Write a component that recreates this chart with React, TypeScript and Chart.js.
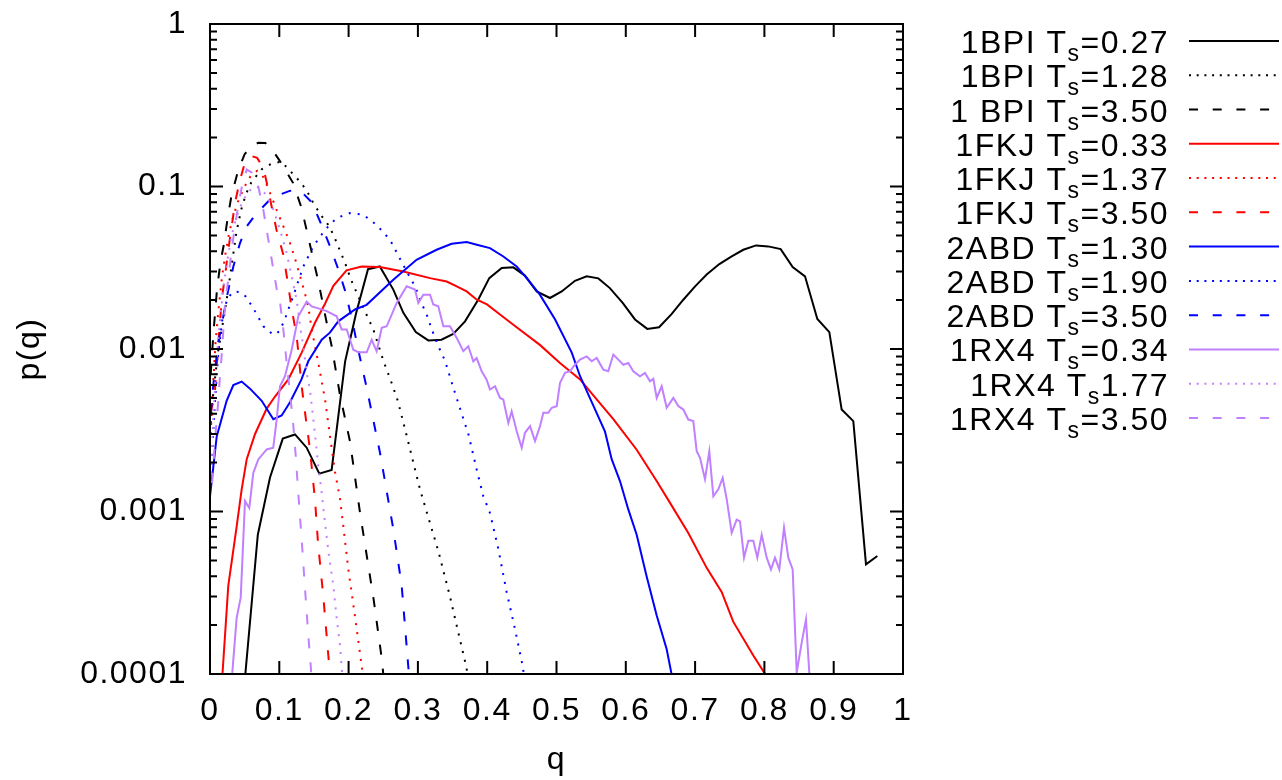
import { useEffect, useRef } from 'react';
import { Chart, registerables } from 'chart.js';

Chart.register(...registerables);

const FONT = '"Liberation Sans", Arial, Helvetica, sans-serif';

type Pt = [number, number];

// 1BPI Ts=0.27 (black solid)
const bpi027: Pt[] = [
  [0.035, 2e-5], [0.051, 1.0e-4], [0.069, 7.2e-4], [0.0866, 1.62e-3], [0.105, 2.81e-3], [0.1227, 2.98e-3],
  [0.1395, 2.47e-3], [0.1577, 1.71e-3], [0.1755, 1.8e-3], [0.195, 8.4e-3], [0.211, 0.0167], [0.228, 0.031],
  [0.245, 0.0322], [0.2645, 0.0232], [0.279, 0.0167], [0.297, 0.0127], [0.315, 0.0113], [0.334, 0.0114],
  [0.351, 0.0124], [0.368, 0.0148], [0.387, 0.0201], [0.403, 0.0273], [0.421, 0.0315], [0.4377, 0.0318],
  [0.4545, 0.0283], [0.4714, 0.0226], [0.4906, 0.0206], [0.5075, 0.0226], [0.5267, 0.0263], [0.5435, 0.028],
  [0.5604, 0.0272], [0.577, 0.0237], [0.5955, 0.0192], [0.6133, 0.0152], [0.631, 0.0133], [0.648, 0.0136],
  [0.666, 0.0164], [0.683, 0.0201], [0.7, 0.0243], [0.7167, 0.0287], [0.735, 0.0333], [0.7528, 0.0371],
  [0.7696, 0.0408], [0.788, 0.0434], [0.8056, 0.0428], [0.8235, 0.0412], [0.8408, 0.0319], [0.8586, 0.028],
  [0.8764, 0.0153], [0.8937, 0.0127], [0.9115, 4.24e-3], [0.9283, 3.6e-3], [0.9466, 4.73e-4], [0.963, 5.32e-4],
];

// 1BPI Ts=1.28 (black dotted)
const bpi128: Pt[] = [
  [0.001, 0.0035], [0.005, 0.0055], [0.012, 0.0098], [0.018, 0.014], [0.024, 0.02], [0.03, 0.03],
  [0.038, 0.052], [0.045, 0.072], [0.052, 0.09], [0.06, 0.107], [0.075, 0.128], [0.09, 0.139],
  [0.103, 0.142], [0.1154, 0.125], [0.13, 0.107], [0.1395, 0.0945], [0.1477, 0.081], [0.1587, 0.068],
  [0.1707, 0.058], [0.178, 0.0505], [0.185, 0.0428], [0.195, 0.0338], [0.203, 0.027], [0.219, 0.0188],
  [0.2357, 0.0132], [0.25, 0.0085], [0.262, 0.0062], [0.271, 0.0048], [0.28, 0.0034], [0.303, 0.00137],
  [0.3295, 5.7e-4], [0.3463, 3.0e-4], [0.3583, 1.8e-4], [0.37, 1.1e-4], [0.377, 7e-5],
];

// 1 BPI Ts=3.50 (black dashed)
const bpi350: Pt[] = [
  [0.001, 0.007], [0.005, 0.0126], [0.01, 0.023], [0.015, 0.034], [0.02, 0.044], [0.025, 0.062],
  [0.031, 0.088], [0.036, 0.106], [0.041, 0.127], [0.05, 0.158], [0.06, 0.178], [0.07, 0.186],
  [0.08, 0.185], [0.09, 0.168], [0.103, 0.139], [0.12, 0.105], [0.132, 0.074], [0.147, 0.039],
  [0.1563, 0.0261], [0.1684, 0.0145], [0.1756, 0.0104], [0.1876, 0.0052], [0.202, 0.0027], [0.2165, 9.8e-4],
  [0.236, 2.9e-4], [0.248, 1.23e-4], [0.255, 6e-5],
];

// 1FKJ Ts=0.33 (red solid)
const fkj033: Pt[] = [
  [0.015, 5e-5], [0.018, 1.0e-4], [0.0264, 3.5e-4], [0.0385, 8.1e-4], [0.0457, 1.37e-3], [0.053, 2.1e-3],
  [0.065, 3.0e-3], [0.0818, 4.3e-3], [0.0938, 5.1e-3], [0.113, 6.5e-3], [0.1323, 9.5e-3], [0.1515, 0.0145],
  [0.166, 0.019], [0.178, 0.0245], [0.197, 0.0305], [0.219, 0.0322], [0.245, 0.032], [0.279, 0.03],
  [0.3175, 0.0273], [0.3415, 0.026], [0.356, 0.0243], [0.3704, 0.0226], [0.385, 0.0201], [0.3997, 0.0188],
  [0.4185, 0.0163], [0.4377, 0.0141], [0.476, 0.0106], [0.505, 0.0082], [0.534, 0.0065], [0.558, 0.0049],
  [0.582, 0.0037], [0.6157, 0.0024], [0.6445, 0.00154], [0.6638, 0.00113], [0.69, 7.4e-4], [0.7167, 4.5e-4],
  [0.7383, 3.2e-4], [0.755, 2.1e-4], [0.784, 1.3e-4], [0.801, 1.0e-4], [0.81, 7e-5],
];

// 1FKJ Ts=1.37 (red dotted)
const fkj137: Pt[] = [
  [0.001, 0.003], [0.004, 0.0055], [0.008, 0.011], [0.012, 0.017], [0.017, 0.027], [0.022, 0.038],
  [0.027, 0.05], [0.032, 0.062], [0.04, 0.08], [0.05, 0.1], [0.058, 0.115], [0.068, 0.125],
  [0.078, 0.113], [0.0886, 0.087], [0.096, 0.072], [0.108, 0.054], [0.1154, 0.045], [0.1227, 0.036],
  [0.128, 0.03], [0.137, 0.022], [0.142, 0.018], [0.1468, 0.0132], [0.1563, 0.0082], [0.166, 0.0049],
  [0.1732, 0.0029], [0.1804, 0.00175], [0.1876, 0.0012], [0.1924, 8.1e-4], [0.1996, 4.4e-4], [0.209, 2.3e-4],
  [0.2198, 1.05e-4], [0.225, 7e-5],
];

// 1FKJ Ts=3.50 (red dashed)
const fkj350: Pt[] = [
  [0.001, 0.004], [0.0072, 0.0056], [0.0097, 0.0078], [0.012, 0.0109], [0.0144, 0.0145], [0.0169, 0.0201],
  [0.0216, 0.028], [0.0264, 0.0408], [0.0313, 0.0568], [0.036, 0.079], [0.0433, 0.11], [0.05, 0.138],
  [0.06, 0.154], [0.068, 0.15], [0.077, 0.13], [0.082, 0.105], [0.089, 0.075], [0.096, 0.054],
  [0.1058, 0.038], [0.113, 0.0245], [0.118, 0.0175], [0.1251, 0.012], [0.1323, 0.0059], [0.137, 0.0041],
  [0.1443, 0.0024], [0.1515, 0.00118], [0.156, 6.3e-4], [0.1635, 3.0e-4], [0.173, 1.0e-4], [0.178, 6e-5],
];

// 2ABD Ts=1.30 (blue solid)
const abd130: Pt[] = [
  [0.0, 1.24e-3], [0.0097, 2.9e-3], [0.024, 4.8e-3], [0.0337, 6.0e-3], [0.0457, 6.3e-3], [0.0577, 5.7e-3],
  [0.0746, 4.8e-3], [0.0914, 3.7e-3], [0.1034, 3.9e-3], [0.1154, 4.7e-3], [0.132, 6.5e-3], [0.1418, 8.4e-3],
  [0.1612, 0.0114], [0.173, 0.0126], [0.1851, 0.0148], [0.2092, 0.0175], [0.226, 0.0187], [0.2645, 0.0267],
  [0.298, 0.0354], [0.327, 0.0408], [0.3487, 0.0444], [0.3704, 0.0455], [0.385, 0.0438], [0.404, 0.0418],
  [0.4233, 0.0371], [0.4425, 0.0322], [0.457, 0.0273], [0.476, 0.0216], [0.498, 0.0152], [0.522, 0.0095],
  [0.534, 0.0068], [0.553, 0.0045], [0.57, 0.0031], [0.5796, 0.0021], [0.5916, 0.00154], [0.6036, 0.00103],
  [0.6157, 7.2e-4], [0.63, 4.0e-4], [0.6445, 2.3e-4], [0.659, 1.42e-4], [0.666, 1.0e-4], [0.672, 7e-5],
];

// 2ABD Ts=1.90 (blue dotted)
const abd190: Pt[] = [
  [0.001, 0.0015], [0.006, 0.004], [0.012, 0.0095], [0.018, 0.0155], [0.025, 0.0205], [0.034, 0.0226],
  [0.043, 0.0224], [0.052, 0.021], [0.0625, 0.0178], [0.077, 0.0138], [0.0914, 0.0122], [0.1, 0.0128],
  [0.108, 0.0152], [0.115, 0.0185], [0.12, 0.0211], [0.1347, 0.0322], [0.149, 0.0428], [0.166, 0.0542],
  [0.1828, 0.064], [0.202, 0.0686], [0.221, 0.067], [0.2405, 0.058], [0.2597, 0.047], [0.274, 0.036],
  [0.289, 0.0273], [0.296, 0.0243], [0.305, 0.0192], [0.3127, 0.0163], [0.32, 0.0132], [0.3295, 0.0104],
  [0.339, 0.0085], [0.351, 0.0058], [0.3608, 0.0043], [0.3728, 0.003], [0.385, 0.0018], [0.3944, 0.00124],
  [0.404, 9.8e-4], [0.416, 5.9e-4], [0.428, 3.2e-4], [0.44, 1.9e-4], [0.451, 1.13e-4], [0.458, 7e-5],
];

// 2ABD Ts=3.50 (blue dashed)
const abd350: Pt[] = [
  [0.001, 0.004], [0.006, 0.0068], [0.012, 0.0109], [0.0192, 0.0159], [0.0264, 0.0232], [0.0337, 0.0322],
  [0.0433, 0.0449], [0.053, 0.0568], [0.0674, 0.0686], [0.0866, 0.083], [0.1, 0.089], [0.115, 0.094],
  [0.125, 0.095], [0.135, 0.09], [0.1467, 0.08], [0.161, 0.058], [0.173, 0.043], [0.185, 0.031],
  [0.195, 0.0228], [0.2044, 0.0155], [0.2165, 0.0088], [0.226, 0.0058], [0.2453, 0.0023], [0.2645, 7.8e-4],
  [0.2766, 3.5e-4], [0.286, 1.13e-4], [0.29, 7e-5],
];

// 1RX4 Ts=0.34 (purple solid)
const rx4034: Pt[] = [
  [0.03, 6e-5], [0.032, 1.0e-4], [0.0385, 2.22e-4], [0.0443, 2.95e-4], [0.0505, 1.16e-3], [0.0567, 1.05e-3],
  [0.0625, 1.73e-3], [0.0697, 2.09e-3], [0.0818, 2.41e-3], [0.0913, 2.47e-3], [0.0962, 3.68e-3], [0.101, 5.9e-3],
  [0.1082, 6.8e-3], [0.1179, 9.9e-3], [0.1274, 0.0159], [0.1395, 0.0196], [0.1468, 0.0183], [0.154, 0.0179],
  [0.1684, 0.0171], [0.1828, 0.0159], [0.19, 0.0132], [0.1973, 0.0132], [0.2068, 0.0099], [0.214, 0.00955],
  [0.2261, 0.00955], [0.2333, 0.0114], [0.2405, 0.0097], [0.2478, 0.0135], [0.255, 0.0138], [0.2694, 0.0192],
  [0.2838, 0.0243], [0.2958, 0.0232], [0.3006, 0.0192], [0.3078, 0.0216], [0.3175, 0.0216], [0.3222, 0.0188],
  [0.3294, 0.0183], [0.3367, 0.0138], [0.3463, 0.0138], [0.356, 0.0117], [0.3655, 0.0097], [0.3727, 0.0104],
  [0.38, 0.0084], [0.3848, 0.0088], [0.392, 0.0073], [0.399, 0.0065], [0.404, 5.63e-3], [0.4113, 5.9e-3],
  [0.4185, 5.0e-3], [0.4232, 4.89e-3], [0.4305, 3.51e-3], [0.4353, 4.14e-3], [0.4426, 3.12e-3], [0.4498, 2.47e-3],
  [0.4545, 3.05e-3], [0.4618, 3.35e-3], [0.469, 2.71e-3], [0.4762, 3.35e-3], [0.481, 4.05e-3], [0.4882, 4.05e-3],
  [0.4931, 4.35e-3], [0.5003, 4.45e-3], [0.5051, 6.19e-3], [0.5123, 7.13e-3], [0.5195, 7.3e-3], [0.5267, 8.0e-3],
  [0.5339, 8.6e-3], [0.5436, 9.0e-3], [0.5508, 8.4e-3], [0.558, 8.8e-3], [0.5675, 7.47e-3], [0.5747, 7.3e-3],
  [0.582, 9.24e-3], [0.5892, 8.6e-3], [0.5964, 8.0e-3], [0.6036, 8.2e-3], [0.6108, 7.3e-3], [0.6205, 6.8e-3],
  [0.6277, 7.13e-3], [0.6349, 6.33e-3], [0.6397, 6.55e-3], [0.6446, 5.0e-3], [0.6518, 5.9e-3], [0.659, 4.35e-3],
  [0.6686, 5.0e-3], [0.6758, 4.45e-3], [0.683, 4.24e-3], [0.6902, 3.68e-3], [0.6974, 3.6e-3], [0.7023, 2.35e-3],
  [0.7071, 2.14e-3], [0.7143, 1.58e-3], [0.7205, 2.35e-3], [0.7263, 1.24e-3], [0.7335, 1.37e-3], [0.7398, 1.61e-3],
  [0.7456, 1.19e-3], [0.7528, 7.4e-4], [0.76, 8.9e-4], [0.7648, 8.7e-4], [0.7706, 5.2e-4], [0.7768, 6.6e-4],
  [0.784, 6.6e-4], [0.7898, 5.2e-4], [0.7961, 7.2e-4], [0.8033, 5.2e-4], [0.8095, 4.4e-4], [0.8153, 5.2e-4],
  [0.8215, 4.4e-4], [0.8283, 7.95e-4], [0.8345, 5.2e-4], [0.8408, 4.4e-4], [0.8466, 1.02e-4], [0.8538, 1.56e-4],
  [0.86, 2.17e-4], [0.8648, 1.02e-4], [0.868, 5e-5],
];

// 1RX4 Ts1.77 (purple dotted)
const rx4177: Pt[] = [
  [0.001, 0.0015], [0.005, 0.004], [0.01, 0.009], [0.015, 0.016], [0.02, 0.025], [0.025, 0.035],
  [0.03, 0.047], [0.035, 0.058], [0.04, 0.068], [0.045, 0.077], [0.05, 0.085], [0.055, 0.092],
  [0.06, 0.097], [0.068, 0.1], [0.08, 0.09], [0.09, 0.075], [0.1, 0.056], [0.11, 0.04],
  [0.118, 0.028], [0.125, 0.0201], [0.13, 0.0138], [0.1346, 0.0104], [0.1395, 0.0071], [0.1443, 0.0056],
  [0.1468, 0.0045], [0.1515, 0.003], [0.1563, 0.0019], [0.1612, 0.0013], [0.166, 8.5e-4], [0.1717, 5.3e-4],
  [0.178, 3.5e-4], [0.1828, 2.2e-4], [0.1876, 1.5e-4], [0.19, 1.1e-4], [0.195, 6e-5],
];

// 1RX4 Ts=3.50 (purple dashed)
const rx4350: Pt[] = [
  [0.003, 0.0015], [0.008, 0.003], [0.012, 0.0048], [0.0144, 0.0068], [0.017, 0.0093], [0.0192, 0.013],
  [0.0216, 0.0185], [0.0264, 0.027], [0.031, 0.04], [0.036, 0.057], [0.041, 0.077], [0.046, 0.1],
  [0.053, 0.127], [0.06, 0.122], [0.0697, 0.1], [0.0769, 0.072], [0.0818, 0.054], [0.0866, 0.041],
  [0.0913, 0.031], [0.0962, 0.0235], [0.101, 0.0195], [0.1058, 0.0132], [0.1106, 0.0082], [0.1154, 0.0054],
  [0.1202, 0.0034], [0.1237, 0.0022], [0.1274, 0.0013], [0.1323, 6.7e-4], [0.137, 3.4e-4], [0.142, 1.7e-4],
  [0.1455, 1.1e-4], [0.148, 7e-5],
];

const seriesData: Pt[][] = [bpi027, bpi128, bpi350, fkj033, fkj137, fkj350, abd130, abd190, abd350, rx4034, rx4177, rx4350];
const seriesNames = ['1BPI', '1BPI', '1 BPI', '1FKJ', '1FKJ', '1FKJ', '2ABD', '2ABD', '2ABD', '1RX4', '1RX4', '1RX4'];
const seriesTemps = ['=0.27', '=1.28', '=3.50', '=0.33', '=1.37', '=3.50', '=1.30', '=1.90', '=3.50', '=0.34', '1.77', '=3.50'];
const seriesColors = ['#000000', '#000000', '#000000', '#ff0000', '#ff0000', '#ff0000', '#0000ff', '#0000ff', '#0000ff', '#c080ff', '#c080ff', '#c080ff'];
const seriesStyles = ['solid', 'dotted', 'dashed', 'solid', 'dotted', 'dashed', 'solid', 'dotted', 'dashed', 'solid', 'dotted', 'dashed'];

const xTickLabels = ['0', '0.1', '0.2', '0.3', '0.4', '0.5', '0.6', '0.7', '0.8', '0.9', '1'];
const yTickValues = [1e-4, 1e-3, 1e-2, 1e-1, 1];
const yTickLabels = ['0.0001', '0.001', '0.01', '0.1', '1'];

const plotDash: Record<string, number[]> = { solid: [], dotted: [2, 7], dashed: [10, 14] };
const legendDash: Record<string, number[]> = { solid: [], dotted: [2, 5.7], dashed: [9, 14.7] };

const LETTER_SPACING = '1.5px';

const framePlugin = {
  id: 'gnuplotFrame',
  beforeDraw(chart: any) {
    chart.ctx.letterSpacing = LETTER_SPACING;
  },
  afterDatasetsDraw(chart: any) {
    const { ctx, chartArea } = chart;
    const { left, right, top, bottom } = chartArea;
    const xs = chart.scales.x;
    const ys = chart.scales.y;
    ctx.save();
    ctx.strokeStyle = '#000';
    ctx.lineWidth = 2;
    ctx.setLineDash([]);
    ctx.beginPath();
    xTickLabels.forEach((_, i) => {
      const px = xs.getPixelForValue(i / 10);
      ctx.moveTo(px, bottom);
      ctx.lineTo(px, bottom - 13);
      ctx.moveTo(px, top);
      ctx.lineTo(px, top + 13);
    });
    yTickValues.forEach((v, i) => {
      const py = ys.getPixelForValue(v);
      ctx.moveTo(left, py);
      ctx.lineTo(left + 13, py);
      ctx.moveTo(right, py);
      ctx.lineTo(right - 13, py);
      if (i < yTickValues.length - 1) {
        for (let m = 2; m <= 9; m++) {
          const pm = ys.getPixelForValue(v * m);
          ctx.moveTo(left, pm);
          ctx.lineTo(left + 7, pm);
          ctx.moveTo(right, pm);
          ctx.lineTo(right - 7, pm);
        }
      }
    });
    ctx.stroke();
    ctx.strokeRect(left, top, right - left, bottom - top);
    ctx.restore();
  },
};

const legendPlugin = {
  id: 'gnuplotLegend',
  afterDraw(chart: any) {
    const ctx = chart.ctx;
    ctx.save();
    const mainFont = `32px ${FONT}`;
    const subFont = `23px ${FONT}`;
    chart.data.datasets.forEach((ds: any, i: number) => {
      const y = 41 + i * 34.27;
      ctx.strokeStyle = ds.borderColor;
      ctx.lineWidth = 2;
      ctx.lineCap = 'butt';
      ctx.setLineDash(legendDash[seriesStyles[i]]);
      ctx.beginPath();
      ctx.moveTo(1189, y);
      ctx.lineTo(1279, y);
      ctx.stroke();
      ctx.setLineDash([]);
      ctx.letterSpacing = LETTER_SPACING;
      ctx.fillStyle = '#000';
      ctx.textAlign = 'left';
      ctx.textBaseline = 'alphabetic';
      const main = seriesNames[i] + ' T';
      const sub = 's';
      const tail = seriesTemps[i];
      ctx.font = mainFont;
      const wMain = ctx.measureText(main).width;
      const wTail = ctx.measureText(tail).width;
      ctx.font = subFont;
      const wSub = ctx.measureText(sub).width;
      const x0 = 1169 - (wMain + wSub + wTail);
      ctx.font = mainFont;
      ctx.fillText(main, x0, y + 12);
      ctx.fillText(tail, x0 + wMain + wSub, y + 12);
      ctx.font = subFont;
      ctx.fillText(sub, x0 + wMain, y + 20);
    });
    ctx.restore();
  },
};

export default function App() {
  const canvasRef = useRef<HTMLCanvasElement | null>(null);

  useEffect(() => {
    if (!canvasRef.current) return;
    Chart.defaults.color = '#000';
    const chart = new Chart(canvasRef.current, {
      type: 'line',
      data: {
        datasets: seriesData.map((d, i) => ({
          label: `${seriesNames[i]} Ts${seriesTemps[i]}`,
          data: d.map(([q, p]) => ({ x: q, y: p })),
          borderColor: seriesColors[i],
          backgroundColor: seriesColors[i],
          borderWidth: 2,
          borderDash: plotDash[seriesStyles[i]],
          borderCapStyle: 'butt' as const,
          borderJoinStyle: 'miter' as const,
          pointRadius: 0,
          pointHoverRadius: 0,
          tension: 0,
          fill: false,
          order: seriesData.length - 1 - i,
        })),
      },
      options: {
        responsive: false,
        animation: false,
        devicePixelRatio: 1,
        events: [],
        layout: { padding: { left: 0, right: 379, top: 24, bottom: 0 } },
        plugins: {
          legend: { display: false },
          tooltip: { enabled: false },
        },
        scales: {
          x: {
            type: 'linear',
            min: 0,
            max: 1,
            grid: { display: false, drawTicks: false },
            border: { display: false },
            ticks: {
              stepSize: 0.1,
              autoSkip: false,
              maxRotation: 0,
              padding: 18,
              color: '#000',
              font: { family: FONT, size: 32 },
              callback: (v: any) => {
                const i = Math.round(Number(v) * 10);
                return xTickLabels[i] ?? '';
              },
            },
            title: {
              display: true,
              text: 'q',
              color: '#000',
              font: { family: FONT, size: 32 },
              padding: { top: 0, bottom: 1 },
            },
            afterFit: (scale: any) => {
              scale.height = 106;
              scale.paddingLeft = 0;
              scale.paddingRight = 0;
              scale.paddingTop = 0;
              scale.paddingBottom = 0;
            },
          },
          y: {
            type: 'logarithmic',
            min: 1e-4,
            max: 1,
            grid: { display: false, drawTicks: false },
            border: { display: false },
            ticks: {
              autoSkip: false,
              padding: 23,
              color: '#000',
              font: { family: FONT, size: 32 },
              callback: (v: any) => {
                const n = Number(v);
                const i = yTickValues.findIndex((t) => Math.abs(t - n) / t < 1e-6);
                return i >= 0 ? yTickLabels[i] : '';
              },
            },
            title: {
              display: true,
              text: 'p(q)',
              color: '#000',
              font: { family: FONT, size: 32 },
              padding: { top: 11, bottom: 0 },
            },
            afterFit: (scale: any) => {
              scale.width = 210;
              scale.paddingLeft = 0;
              scale.paddingRight = 0;
              scale.paddingTop = 0;
              scale.paddingBottom = 0;
            },
          },
        },
      },
      plugins: [framePlugin, legendPlugin],
    } as any);
    return () => chart.destroy();
  }, []);

  return (
    <div style={{ position: 'absolute', left: 0, top: 0, width: 1282, height: 780, background: '#fff' }}>
      <canvas ref={canvasRef} width={1282} height={780} style={{ display: 'block', width: 1282, height: 780 }} />
    </div>
  );
}
